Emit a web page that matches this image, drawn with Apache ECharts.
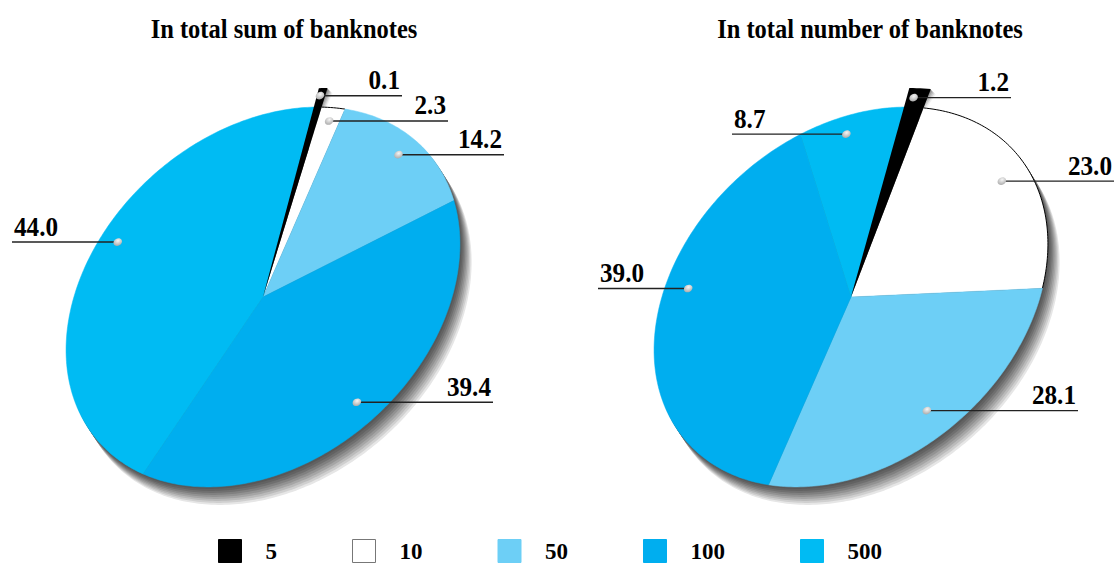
<!DOCTYPE html>
<html>
<head>
<meta charset="utf-8">
<style>
html, body { margin: 0; padding: 0; background: #fff; }
#chart { width: 1114px; height: 563px; }
</style>
<script src="https://cdn.jsdelivr.net/npm/echarts@6/dist/echarts.min.js"></script>
</head>
<body>
<div id="chart"></div>
<script>
const denominations = ['5', '10', '50', '100', '500'];
const sumShares = [0.1, 2.3, 14.2, 39.4, 44.0];
const numberShares = [1.2, 23.0, 28.1, 39.0, 8.7];
const pieTitles = ['In total sum of banknotes', 'In total number of banknotes'];

const shares = [sumShares, numberShares];
const sliceColors = ['#000000', '#ffffff', '#6dcff6', '#00aeef', '#00bbf3'];
const fontFamily = '"Liberation Serif", serif';

// the pies are tilted discs, so every slice goes through this ellipse
const pieCenters = [[263, 297], [851, 297]];
const startAngles = [40.7, 40.2];
const semiMajor = 219, semiMinor = 164, tilt = 41.3 * Math.PI / 180;
const minSweeps = [2.4, 6]; // the thin first slice is drawn wider than its share
const explode = 1.1;

// label layout per pie and per slice
const spotRadius = [[1.06, 0.93, 0.9, 0.86, 0.9], [1.05, 0.87, 0.83, 0.875, 0.9]];
const spotShift = [[0.3, -0.2, 0.3, 0.3, -8.2], [1, 0.9, 1.8, -14.2, 2.3]];
const leaderEnds = [[402, 448, 504, 493, 12], [1011, 1114, 1078, 598, 732]];

const project = (pie, deg, r, dx = 0, dy = 0) => {
	const a = deg * Math.PI / 180;
	const u = semiMajor * r * Math.cos(a), v = semiMinor * r * Math.sin(a);
	return [
		pieCenters[pie][0] + u * Math.cos(tilt) - v * Math.sin(tilt) + dx,
		pieCenters[pie][1] - u * Math.sin(tilt) - v * Math.cos(tilt) + dy
	];
};

const arcPoints = (pie, from, to, r, dx = 0, dy = 0) => {
	const pts = [];
	const steps = Math.max(2, Math.ceil(Math.abs(from - to)));
	for (let i = 0; i <= steps; i++) {
		pts.push(project(pie, from + (to - from) * i / steps, r, dx, dy));
	}
	return pts;
};

// clockwise sweep of one slice, the first slice is widened around its true middle
const sliceRange = (pie, idx) => {
	const vals = shares[pie].map(v => v * 3.6);
	const start = startAngles[pie];
	const firstMid = start - vals[0] / 2;
	const half = Math.max(vals[0], minSweeps[pie]) / 2;
	if (idx === 0) return [firstMid + half, firstMid - half];
	let from = start;
	for (let i = 0; i < idx; i++) from -= vals[i];
	return [idx === 1 ? firstMid - half : from, from - vals[idx]];
};

const renderSlice = (params, api) => {
	const pie = api.value(0), idx = params.seriesIndex - 2;
	const [from, to] = sliceRange(pie, idx);
	const r = idx === 0 ? explode : 1;
	const points = [pieCenters[pie]].concat(arcPoints(pie, from, to, r));
	const style = {fill: sliceColors[idx]};
	if (idx > 1) {
		// closes the hairline seam between neighbouring blues
		style.stroke = sliceColors[idx];
		style.lineWidth = 0.5;
	}
	const children = [{type: 'polygon', shape: {points}, style}];
	if (idx === 1) {
		children.push({
			type: 'polyline',
			shape: {points: arcPoints(pie, from, to, 1)},
			style: {fill: null, stroke: '#000', lineWidth: 1}
		});
	}
	return {type: 'group', children};
};

const shadowSteps = 9;
const renderShadow = (params, api) => {
	const pie = api.value(0);
	const children = [];
	for (let i = shadowSteps; i >= 1; i--) {
		const t = Math.pow((i - 1) / (shadowSteps - 1), 1.3);
		const grey = Math.round(0x58 + (0xe6 - 0x58) * t);
		children.push({
			type: 'polygon',
			shape: {points: arcPoints(pie, 0, 360, 1, i * 1.3, i * 2)},
			style: {fill: `rgb(${grey},${grey},${grey})`}
		});
	}
	return {type: 'group', children};
};

// soft shadow behind the pulled out slice
const renderTipShadow = (params, api) => {
	const pie = api.value(0);
	const [from, to] = sliceRange(pie, 0);
	const children = [];
	for (let i = 5; i >= 1; i--) {
		const grey = Math.round(0x88 + (0xf0 - 0x88) * (i - 1) / 4);
		children.push({
			type: 'polygon',
			shape: {points: [project(pie, from, 0.8, i, i)].concat(arcPoints(pie, from, to, explode, i, i))},
			style: {fill: `rgb(${grey},${grey},${grey})`}
		});
	}
	return {type: 'group', children};
};

const renderLabel = (params, api) => {
	const pie = api.value(0), idx = api.value(1);
	const [from, to] = sliceRange(pie, idx);
	const spot = project(pie, (from + to) / 2 + spotShift[pie][idx], spotRadius[pie][idx]);
	const endX = leaderEnds[pie][idx];
	const toLeft = endX < spot[0];
	return {
		type: 'group',
		children: [
			{
				type: 'line',
				shape: {x1: spot[0], y1: spot[1], x2: endX, y2: spot[1]},
				style: {stroke: '#222', lineWidth: 1.4}
			},
			{
				type: 'ellipse',
				x: spot[0], y: spot[1], rotation: 0.5,
				shape: {cx: 0, cy: 0, rx: 4.5, ry: 3.6},
				style: {
					fill: new echarts.graphic.RadialGradient(0.6, 0.35, 0.7, [
						{offset: 0, color: '#f6f6f6'},
						{offset: 1, color: '#a8a8a8'}
					])
				}
			},
			{
				type: 'text',
				x: toLeft ? endX + 2 : endX - 2,
				y: spot[1] - 2,
				scaleX: 0.9,
				style: {
					text: shares[pie][idx].toFixed(1),
					font: `bold 28px ${fontFamily}`,
					fill: '#000',
					align: toLeft ? 'left' : 'right',
					verticalAlign: 'bottom'
				}
			}
		]
	};
};

const pieRows = [[0], [1]];
const labelRows = [];
shares.forEach((row, pie) => row.forEach((v, idx) => labelRows.push([pie, idx])));

const chart = echarts.init(document.getElementById('chart'), null, {renderer: 'svg'});
chart.setOption({
	animation: false,
	backgroundColor: '#fff',
	graphic: pieTitles.map((text, i) => ({
		type: 'text',
		x: [284, 870][i],
		y: 29,
		scaleX: 0.875,
		style: {
			text,
			font: `bold 28px ${fontFamily}`,
			fill: '#000',
			align: 'center',
			verticalAlign: 'middle'
		}
	})),
	legend: {
		left: 218,
		top: 539,
		padding: 0,
		itemWidth: 23,
		itemHeight: 23,
		itemGap: 75,
		selectedMode: false,
		textStyle: {fontFamily, fontWeight: 'bold', fontSize: 23, lineHeight: 18, color: '#000', padding: [0, 0, 0, 19]},
		data: denominations.map((name, i) => ({
			name,
			icon: 'rect',
			itemStyle: {color: sliceColors[i], borderColor: i === 1 ? '#777' : sliceColors[i], borderWidth: 1}
		}))
	},
	series: [
		{type: 'custom', coordinateSystem: 'none', silent: true, z: 1, data: pieRows, renderItem: renderShadow},
		{type: 'custom', coordinateSystem: 'none', silent: true, z: 2, data: pieRows, renderItem: renderTipShadow},
		...denominations.map((name, i) => ({
			type: 'custom',
			name,
			coordinateSystem: 'none',
			silent: true,
			z: i === 0 ? 4 : 3,
			itemStyle: {color: sliceColors[i]},
			data: pieRows,
			renderItem: renderSlice
		})),
		{type: 'custom', coordinateSystem: 'none', silent: true, z: 5, data: labelRows, renderItem: renderLabel}
	]
});
</script>
</body>
</html>
